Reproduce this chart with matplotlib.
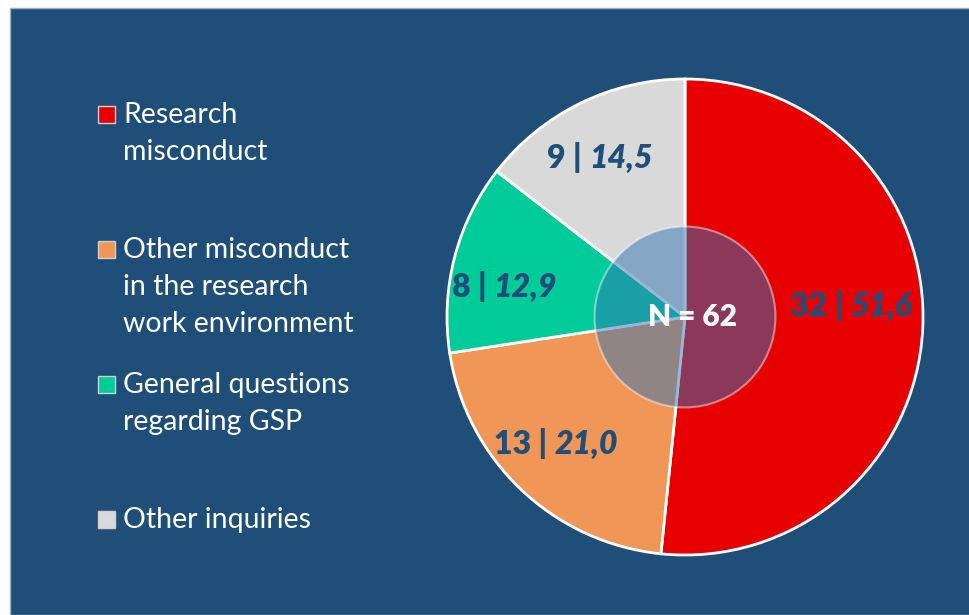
import numpy as np
import matplotlib.pyplot as plt
from matplotlib.patches import Rectangle, Circle
from matplotlib.offsetbox import TextArea, HPacker, AnnotationBbox

plt.rcParams["font.family"] = ["Lato", "DejaVu Sans"]

# data
categories = ["Research\nmisconduct",
              "Other misconduct\nin the research\nwork environment",
              "General questions\nregarding GSP",
              "Other inquiries"]
counts = [32, 13, 8, 9]
percents = ["51,6", "21,0", "12,9", "14,5"]
total_label = "N = 62"
colors = ["#E60000", "#F09656", "#00CC99", "#D9D9D9"]

W, H = 970, 615
fig = plt.figure(figsize=(W / 100, H / 100), dpi=100)
fig.patch.set_facecolor("white")

# dark blue panel
fig.patches.append(Rectangle((10 / W, 0), 1, 1 - 8 / H, transform=fig.transFigure,
                             facecolor="#1F4E79", edgecolor="#9AAFC4", linewidth=1, zorder=-5))

# pie
cx, cy, r = 685, 317, 238
ax = fig.add_axes([(cx - r) / W, (H - cy - r) / H, 2 * r / W, 2 * r / H])
ax.set_facecolor("none")
wedges, _ = ax.pie(counts, colors=colors, startangle=90, counterclock=False, radius=1,
                   wedgeprops=dict(edgecolor="white", linewidth=2))
ax.set_xlim(-1, 1)
ax.set_ylim(-1, 1)
ax.set_aspect("equal")
ax.axis("off")

# inner translucent circle
ax.add_patch(Circle((0, 0), 0.38, facecolor=(0.2, 0.45, 0.70, 0.5),
                    edgecolor=(1, 1, 1, 0.45), linewidth=1.5, zorder=5))
ax.text(0.03, 0, total_label, ha="center", va="center", color="white",
        fontsize=21.5, fontweight="heavy", zorder=6)

# slice labels (radius, angle shift in degrees)
lab_r = [0.70, 0.76, 0.77, 0.76]
lab_shift = [7, -2, 5, 2]
for i, w in enumerate(wedges):
    ang = np.deg2rad((w.theta1 + w.theta2) / 2 + lab_shift[i])
    x, y = lab_r[i] * np.cos(ang), lab_r[i] * np.sin(ang)
    tp = dict(color="#1F4E79", fontsize=23, fontweight="heavy")
    box = HPacker(children=[TextArea(f"{counts[i]} | ", textprops=tp),
                            TextArea(percents[i], textprops=dict(tp, fontstyle="italic"))],
                  pad=0, sep=0, align="baseline")
    ab = AnnotationBbox(box, (x, y), frameon=False, box_alignment=(0.5, 0.5), zorder=7)
    ax.add_artist(ab)

# legend
line_h = 37
for i, cat in enumerate(categories):
    y0 = 115 + i * 135
    fig.patches.append(Rectangle((98 / W, 1 - (y0 + 8) / H), 17 / W, 17 / H,
                                 transform=fig.transFigure, facecolor=colors[i],
                                 edgecolor="#D0D0D0", linewidth=1))
    for j, line in enumerate(cat.split("\n")):
        fig.text(123 / W, 1 - (y0 + j * line_h) / H, line, ha="left", va="center",
                 color="white", fontsize=20.5)

fig.savefig("out.png", dpi=100, facecolor=fig.get_facecolor())
